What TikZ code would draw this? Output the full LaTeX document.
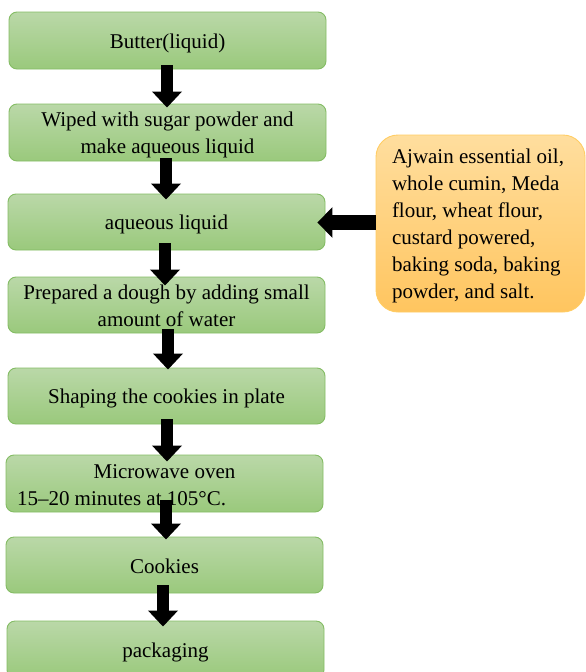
\documentclass[tikz,border=0pt]{standalone}
\usepackage{fontspec}
\setmainfont{Liberation Serif}
\usetikzlibrary{arrows.meta,calc}
\definecolor{gtop}{RGB}{186,216,168}
\definecolor{gbot}{RGB}{154,201,124}
\definecolor{gline}{RGB}{132,188,100}
\definecolor{otop}{RGB}{255,222,158}
\definecolor{obot}{RGB}{255,197,95}
\definecolor{oline}{RGB}{255,205,100}
\begin{document}
\begin{tikzpicture}[x=1pt,y=-1pt,
  txt/.style={font=\fontsize{21}{27}\selectfont,
    execute at begin node={\rule{0pt}{20pt}}, execute at end node={\rule[-4pt]{0pt}{4pt}}},
  gbox/.style={txt, draw=gline, line width=0.9pt, rounded corners=8pt, top color=gtop, bottom color=gbot,
    inner sep=0pt, text width=311pt, align=flush center, minimum width=317pt},
  obox/.style={txt, draw=oline, line width=0.9pt, rounded corners=22pt, top color=otop, bottom color=obot,
    inner sep=0pt, minimum width=209pt, minimum height=177pt, text width=177pt, align=flush left},
  blk/.style={black, line width=12pt, line cap=butt, -{Triangle[width=29pt,length=16pt]}},
  hblk/.style={black, line width=15pt, line cap=butt, -{Triangle[width=30pt,length=15pt]}}
]
\useasboundingbox (0,0) rectangle (586,672);
\node[gbox, minimum height=57pt] (b1) at (167.5,40.5) {Butter(liquid)};
\node[gbox, minimum height=57pt] (b2) at (167.5,132.5) {Wiped with sugar powder and\\make aqueous liquid};
\node[gbox, minimum height=56pt] (b3) at (166.5,222) {aqueous liquid};
\node[gbox, minimum height=56pt] (b4) at (166.5,305) {Prepared a dough by adding small\\amount of water};
\node[gbox, minimum height=56pt] (b5) at (166.5,396) {Shaping the cookies in plate};
\node[gbox, minimum height=57pt, text width=295pt, align=flush left] (b6) at (164.5,483.5)
  {\makebox[295pt][c]{Microwave oven}\\15–20 minutes at 105°C.};
\node[gbox, minimum height=56pt] (b7) at (164.5,565) {Cookies};
\node[gbox, minimum height=57pt] (b8) at (165.5,649.5) {packaging};
\node[obox] (o) at (480.5,223.5) {Ajwain essential oil,\\whole cumin, Meda\\flour, wheat flour,\\custard powered,\\baking soda, baking\\powder, and salt.};

\coordinate (s1) at ($(b1.south)+(-0.5,-4)$);
\coordinate (s2) at ($(b2.south)+(-1.5,-3)$);
\coordinate (s3) at ($(b3.south)+(-1.5,-7)$);
\coordinate (s4) at ($(b4.south)+(1.5,-4)$);
\coordinate (s5) at ($(b5.south)+(0.5,-5)$);
\coordinate (s6) at ($(b6.south)+(1.5,-12)$);
\coordinate (s7) at ($(b7.south)+(-1.5,-8)$);
\draw[blk] (s1) -- ($(s1 |- b2.north)+(0,4)$);
\draw[blk] (s2) -- ($(s2 |- b3.north)+(0,6)$);
\draw[blk] (s3) -- ($(s3 |- b4.north)+(0,9)$);
\draw[blk] (s4) -- ($(s4 |- b5.north)+(0,2)$);
\draw[blk] (s5) -- ($(s5 |- b6.north)+(0,7)$);
\draw[blk] (s6) -- ($(s6 |- b7.north)+(0,3)$);
\draw[blk] (s7) -- ($(s7 |- b8.north)+(0,6)$);
\coordinate (h1) at ($(o.west)+(0,-1)$);
\draw[hblk] (h1) -- ($(h1 -| b3.east)+(-8,0)$);
\end{tikzpicture}
\end{document}
